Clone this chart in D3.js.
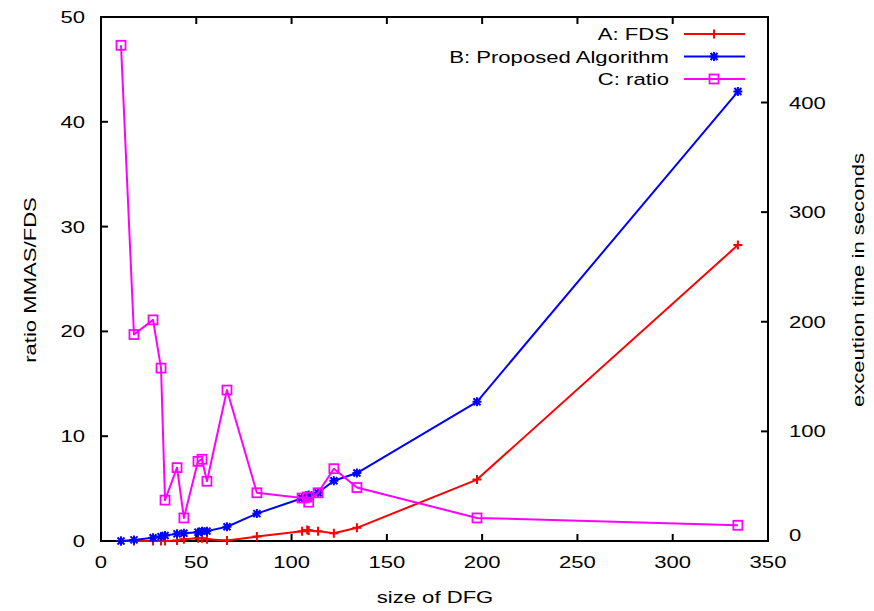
<!DOCTYPE html>
<html><head><meta charset="utf-8">
<script src="https://cdn.jsdelivr.net/npm/d3@7"></script>
<style>body{margin:0;background:#fff}svg text{font-family:"Liberation Sans",Arial,sans-serif;fill:#000}</style>
</head><body>
<svg id="c" width="874" height="611"></svg>
<script>
const sizes = [10.5,17.3,27.3,31.5,33.6,39.9,43.5,50.9,53,55.6,66.1,81.8,105.5,108.2,109,113.9,122.2,134.3,197.3,334.2];
const fdsTime = [0,0,0,0,0,0.5,1.5,2.5,2.5,1.5,0.5,4,9,10,9.5,9,7,12,56,270];
const proposedTime = [0,1,3,4,5,6.5,7,8,9,9,13,25,39,41,42,44,55,62,127,410];
const ratio = [47.3,19.7,21.1,16.5,3.9,7.0,2.2,7.6,7.8,5.7,14.4,4.6,4.1,4.2,3.7,4.6,6.9,5.1,2.2,1.5];
const xTicks = [0,50,100,150,200,250,300,350];
const yTicks = [0,10,20,30,40,50];
const y2Ticks = [0,100,200,300,400];
const legendLabels = ["A: FDS","B: Proposed Algorithm","C: ratio"];

const W=874,H=611, L=101,R=768,T=17,B=541, SX=1.3, FS=17;
const svg=d3.select("#c");
const x=d3.scaleLinear().domain([0,350]).range([L,R]);
const y=d3.scaleLinear().domain([0,50]).range([B,T]);
const y2=d3.scaleLinear().domain([0,478]).range([B,T]);

function txt(g,xx,yy,s,anchor,rot){
  return g.append("text").attr("transform",`translate(${xx},${yy})${rot?" rotate("+rot+")":""} scale(${SX},1)`)
   .attr("text-anchor",anchor||"middle").attr("dominant-baseline","central").style("font-size",FS+"px").text(s);
}
const g=svg.append("g");
// ticks
const tk=7;
xTicks.forEach(v=>{
  g.append("line").attr("x1",x(v)).attr("x2",x(v)).attr("y1",B).attr("y2",B-tk).attr("stroke","#000").attr("stroke-width",2);
  g.append("line").attr("x1",x(v)).attr("x2",x(v)).attr("y1",T).attr("y2",T+tk).attr("stroke","#000").attr("stroke-width",2);
  txt(g,x(v),562,String(v));
});
yTicks.forEach(v=>{
  g.append("line").attr("x1",L).attr("x2",L+tk).attr("y1",y(v)).attr("y2",y(v)).attr("stroke","#000").attr("stroke-width",2);
  txt(g,85,y(v),String(v),"end");
});
y2Ticks.forEach(v=>{
  g.append("line").attr("x1",R).attr("x2",R-tk).attr("y1",y2(v)).attr("y2",y2(v)).attr("stroke","#000").attr("stroke-width",2);
  txt(g,789,y2(v)-(v===0?6:0),String(v),"start");
});
g.append("rect").attr("x",L).attr("y",T).attr("width",R-L).attr("height",B-T).attr("fill","none").attr("stroke","#000").attr("stroke-width",2);

txt(g,435,597,"size of DFG");
txt(g,30,280,"ratio MMAS/FDS","middle",-90);
txt(g,858,280,"exceution time in seconds","middle",-90);

function plus(sel,cx,cy,c){sel.append("path").attr("d",`M${cx-4.5},${cy}H${cx+4.5}M${cx},${cy-4.5}V${cy+4.5}`).attr("stroke",c).attr("stroke-width",2).attr("fill","none");}
function star(sel,cx,cy,c){sel.append("path").attr("d",`M${cx-4.5},${cy}H${cx+4.5}M${cx},${cy-4.5}V${cy+4.5}M${cx-3.5},${cy-3.5}L${cx+3.5},${cy+3.5}M${cx-3.5},${cy+3.5}L${cx+3.5},${cy-3.5}`).attr("stroke",c).attr("stroke-width",2).attr("fill","none");}
function sq(sel,cx,cy,c){sel.append("rect").attr("x",cx-4.5).attr("y",cy-4.5).attr("width",9).attr("height",9).attr("stroke",c).attr("stroke-width",1.8).attr("fill","none");}

const series=[
 {vals:fdsTime,sc:y2,c:"#ff0000",m:plus},
 {vals:proposedTime,sc:y2,c:"#0000ff",m:star},
 {vals:ratio,sc:y,c:"#ff00ff",m:sq}
];
const pg=svg.append("g");
series.forEach((s,i)=>{
  const line=d3.line().x((d,j)=>x(sizes[j])).y(d=>s.sc(d));
  pg.append("path").attr("d",line(s.vals)).attr("fill","none").attr("stroke",s.c).attr("stroke-width",2).attr("stroke-linejoin","round");
  s.vals.forEach((v,j)=>s.m(pg,x(sizes[j]),s.sc(v),s.c));
  const ly=34+i*22.5;
  txt(svg,669,ly,legendLabels[i],"end");
  svg.append("line").attr("x1",684).attr("x2",745).attr("y1",ly).attr("y2",ly).attr("stroke",s.c).attr("stroke-width",2);
  s.m(svg,714,ly,s.c);
});
</script>
</body></html>
